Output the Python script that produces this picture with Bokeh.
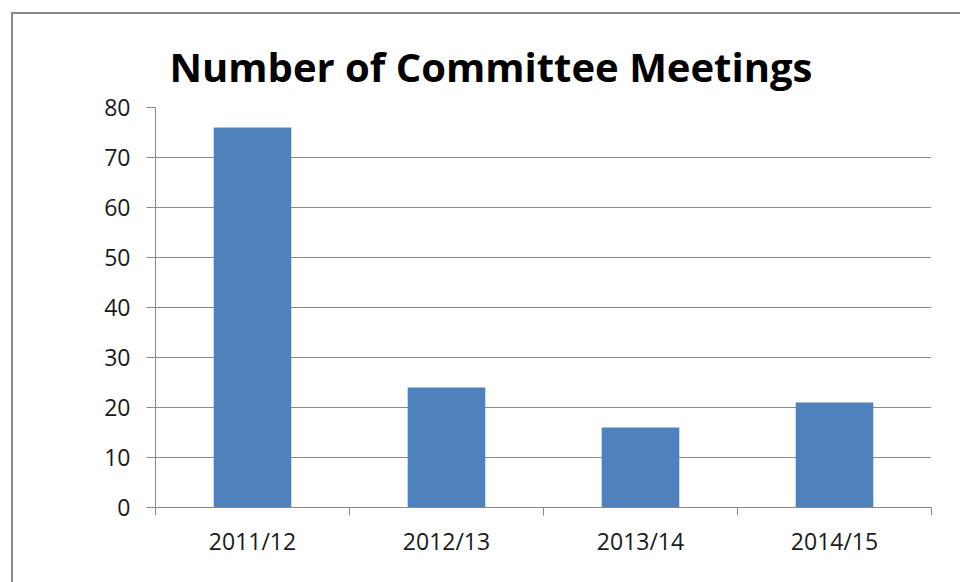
from bokeh.plotting import figure
from bokeh.models import Range1d, FixedTicker, InlineStyleSheet
from bokeh.embed import file_html
from bokeh.resources import INLINE

categories = ["2011/12", "2012/13", "2013/14", "2014/15"]
meetings = [76, 24, 16, 21]
y_ticks = [0, 10, 20, 30, 40, 50, 60, 70, 80]
title_text = "Number of Committee Meetings"

positions = [i + 0.5 for i in range(len(categories))]
boundaries = list(range(len(categories) + 1))

GRID = "#8a8a8a"
TXT = "#1a1a1a"

p = figure(width=960, height=582,
           x_range=Range1d(0, len(categories)), y_range=Range1d(0, y_ticks[-1]),
           output_backend="svg", toolbar_location=None,
           min_border_left=155, min_border_right=29,
           min_border_top=107, min_border_bottom=75)
p.outline_line_color = None
p.background_fill_color = "white"
p.border_fill_color = "white"

p.title.text = title_text
p.title.align = "left"
p.title.offset = 14
p.title.text_font = "Open Sans"
p.title.text_font_style = "bold"
p.title.text_font_size = "40px"
p.title.text_color = "black"
p.title.standoff = 28

p.vbar(x=positions, top=meetings, width=0.4, fill_color="#4F81BD", line_color=None)

# x axis
p.xaxis.ticker = FixedTicker(ticks=positions, minor_ticks=boundaries)
p.xaxis.major_label_overrides = {pos: cat for pos, cat in zip(positions, categories)}
p.xaxis.major_tick_out = 0
p.xaxis.major_tick_in = 0
p.xaxis.minor_tick_out = 8
p.xaxis.minor_tick_in = 0
p.xaxis.minor_tick_line_color = GRID
p.xaxis.axis_line_color = GRID
p.xaxis.major_label_text_font = "Open Sans"
p.xaxis.major_label_text_font_size = "23px"
p.xaxis.major_label_text_color = TXT
p.xaxis.major_label_standoff = 9
p.xgrid.grid_line_color = None

# y axis
p.yaxis.ticker = FixedTicker(ticks=y_ticks)
p.yaxis.major_tick_out = 9
p.yaxis.major_tick_in = 0
p.yaxis.minor_tick_line_color = None
p.yaxis.major_tick_line_color = GRID
p.yaxis.axis_line_color = GRID
p.yaxis.major_label_text_font = "Open Sans"
p.yaxis.major_label_text_font_size = "23px"
p.yaxis.major_label_text_color = TXT
p.yaxis.major_label_standoff = 16
p.ygrid.grid_line_color = GRID
p.ygrid.ticker = FixedTicker(ticks=y_ticks)

# chart-area border (left and top edges visible; the rest is cropped in the reference)
p.stylesheets = [InlineStyleSheet(css="""
:host { position: relative; }
:host::after {
  content: "";
  position: absolute;
  left: 11px; top: 12px; right: 0; bottom: 0;
  border-left: 2px solid #8a8a8a;
  border-top: 2px solid #8a8a8a;
  pointer-events: none;
}
""")]

open("out.html", "w").write(file_html(p, INLINE))
